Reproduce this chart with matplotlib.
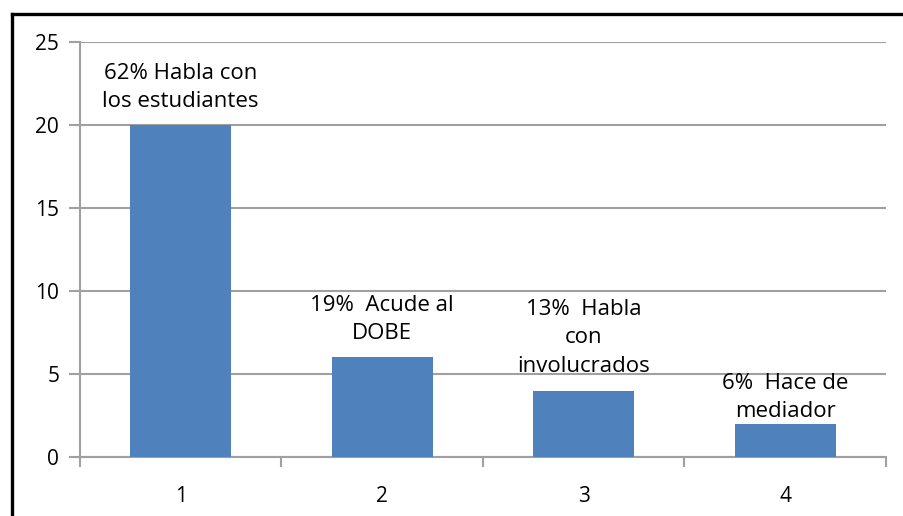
import numpy as np
import matplotlib
matplotlib.use('Agg')
import matplotlib.pyplot as plt
from matplotlib.lines import Line2D

categories = ["1", "2", "3", "4"]
values = [20, 6, 4, 2]
bar_labels = [
    "62% Habla con\nlos estudiantes",
    "19%  Acude al\nDOBE",
    "13%  Habla\ncon\ninvolucrados",
    "6%  Hace de\nmediador",
]
y_ticks = [0, 5, 10, 15, 20, 25]

plt.rcParams['font.family'] = ['Open Sans', 'DejaVu Sans']

fig = plt.figure(figsize=(9.04, 5.16), dpi=100)
ax = fig.add_axes([0.0885, 0.1143, 0.8915, 0.8043])

x = np.arange(len(categories))
ax.bar(x, values, width=0.5, color='#4F81BD', zorder=3)

ax.set_xlim(-0.5, len(categories) - 0.5)
ax.set_ylim(0, 25)
ax.set_yticks(y_ticks)
ax.set_yticklabels([str(t) for t in y_ticks], fontsize=15)
ax.set_xticks(x)
ax.set_xticklabels(categories, fontsize=15)
ax.set_xticks(np.arange(len(categories) + 1) - 0.5, minor=True)
ax.tick_params(axis='x', which='major', length=0, pad=21)
ax.tick_params(axis='x', which='minor', length=7, width=1.5, color='#A0A0A0')
ax.tick_params(axis='y', length=8, width=1.5, color='#A0A0A0', pad=7)

ax.yaxis.grid(True, color='#A0A0A0', linewidth=1.5, zorder=0)
ax.set_axisbelow(True)
for side in ['top', 'right']:
    ax.spines[side].set_visible(False)
for side in ['left', 'bottom']:
    ax.spines[side].set_color('#A0A0A0')
    ax.spines[side].set_linewidth(1.5)

# label offsets (pixels above bar top)
offsets = [13, 13, 14, 2]
for xi, v, lab, off in zip(x, values, bar_labels, offsets):
    ax.annotate(lab, (xi, v), xytext=(0, off), textcoords='offset pixels',
                ha='center', va='bottom', ma='center', fontsize=16,
                linespacing=1.45, annotation_clip=False)

# black frame on top and left side
fig.add_artist(Line2D([11.5 / 904, 11.5 / 904], [0, 1 - 13.5 / 516],
                      transform=fig.transFigure, color='black', linewidth=2.4,
                      solid_capstyle='projecting'))
fig.add_artist(Line2D([11.5 / 904, 1], [1 - 13.5 / 516, 1 - 13.5 / 516],
                      transform=fig.transFigure, color='black', linewidth=2.4,
                      solid_capstyle='projecting'))

fig.savefig('out.png', dpi=100)
plt.close(fig)
